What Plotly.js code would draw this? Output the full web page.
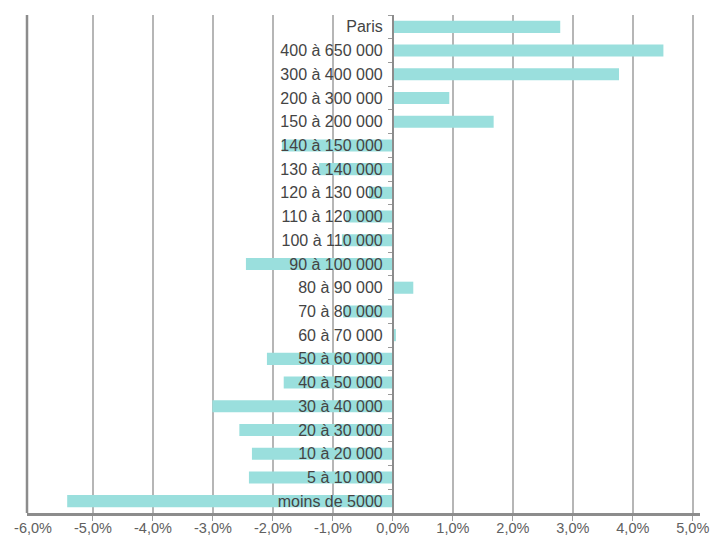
<!DOCTYPE html>
<html>
<head>
<meta charset="utf-8">
<script src="https://cdn.plot.ly/plotly-3.0.1.min.js"></script>
<style>
  html, body { margin: 0; padding: 0; background: #ffffff; }
  #chart { width: 714px; height: 535px; }
</style>
</head>
<body>
<div id="chart"></div>
<script>
// Categories, top to bottom
const categories = [
  "Paris", "400 à 650 000", "300 à 400 000", "200 à 300 000", "150 à 200 000",
  "140 à 150 000", "130 à 140 000", "120 à 130 000", "110 à 120 000", "100 à 110 000",
  "90 à 100 000", "80 à 90 000", "70 à 80 000", "60 à 70 000", "50 à 60 000",
  "40 à 50 000", "30 à 40 000", "20 à 30 000", "10 à 20 000", "5 à 10 000", "moins de 5000"
];
// Values in percent
const values = [
  2.79, 4.51, 3.77, 0.94, 1.68,
  -1.85, -1.23, -0.40, -0.78, -0.85,
  -2.45, 0.34, -0.83, 0.05, -2.10,
  -1.82, -3.01, -2.56, -2.35, -2.40, -5.43
];
// Axis ticks
const tickValues = [-6, -5, -4, -3, -2, -1, 0, 1, 2, 3, 4, 5];
const tickLabels = ["-6,0%", "-5,0%", "-4,0%", "-3,0%", "-2,0%", "-1,0%", "0,0%", "1,0%", "2,0%", "3,0%", "4,0%", "5,0%"];
const gridValues = [-5, -4, -3, -2, -1, 0, 1, 2, 3, 4, 5];

const xMin = -6.1, xMax = 5.12;
const zeroPos = (0 - xMin) / (xMax - xMin);
const axisGray = '#8c8c8c';
const font = 'Liberation Sans, Arial, Helvetica, sans-serif';

const trace = {
  type: 'bar',
  orientation: 'h',
  y: categories,
  x: values,
  marker: { color: '#9adfdd', line: { width: 0 } },
  hoverinfo: 'skip'
};

const layout = {
  width: 714,
  height: 535,
  margin: { l: 27, r: 14, t: 15, b: 22, pad: 0 },
  paper_bgcolor: '#ffffff',
  plot_bgcolor: '#ffffff',
  showlegend: false,
  bargap: 0.49,
  font: { family: font, color: '#444444' },
  xaxis: {
    range: [xMin, xMax],
    tickmode: 'array',
    tickvals: tickValues,
    ticktext: tickLabels,
    showgrid: false,
    zeroline: false,
    ticks: '',
    showline: true,
    linecolor: axisGray,
    linewidth: 2.5,
    tickfont: { family: font, size: 14.5, color: '#606060' },
    automargin: false,
    fixedrange: true,
    minor: {
      tickmode: 'array',
      tickvals: gridValues,
      showgrid: true,
      gridcolor: '#b6b6b6',
      gridwidth: 1.5,
      ticks: 'outside',
      ticklen: 5,
      tickwidth: 1,
      tickcolor: '#a0a0a0'
    }
  },
  yaxis: {
    type: 'category',
    categoryorder: 'array',
    categoryarray: categories,
    autorange: 'reversed',
    anchor: 'free',
    position: zeroPos,
    side: 'left',
    showline: true,
    linecolor: axisGray,
    linewidth: 2.5,
    ticks: 'outside',
    tickson: 'boundaries',
    ticklen: 4,
    tickwidth: 1,
    tickcolor: '#9a9a9a',
    ticklabelstandoff: 6,
    showgrid: false,
    zeroline: false,
    tickfont: { family: font, size: 16, color: '#444444' },
    automargin: false,
    fixedrange: true
  },
  shapes: [{
    type: 'line', xref: 'paper', yref: 'paper',
    x0: 0, x1: 0, y0: 0, y1: 1,
    line: { color: axisGray, width: 2.5 },
    layer: 'above'
  }]
};

Plotly.newPlot('chart', [trace], layout, { displayModeBar: false, staticPlot: true });
</script>
</body>
</html>
